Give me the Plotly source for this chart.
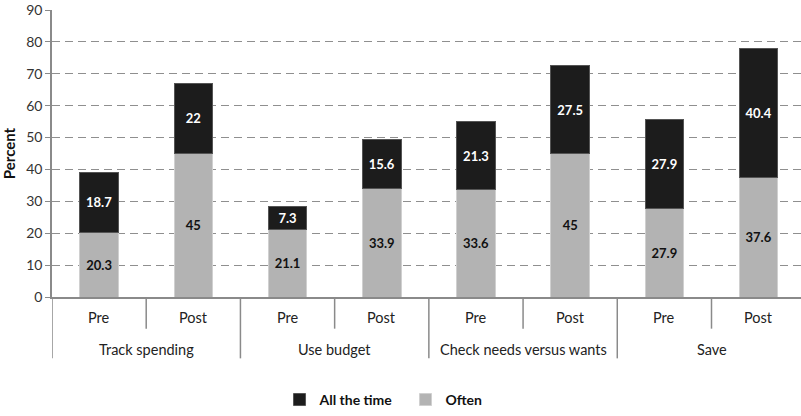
import plotly.graph_objects as go

groups = ["Track spending", "Use budget", "Check needs versus wants", "Save"]
phases = ["Pre", "Post"]
often = [20.3, 45, 21.1, 33.9, 33.6, 45, 27.9, 37.6]
all_time = [18.7, 22, 7.3, 15.6, 21.3, 27.5, 27.9, 40.4]
y_ticks = [0, 10, 20, 30, 40, 50, 60, 70, 80, 90]

FONT = "Lato, 'Open Sans', sans-serif"
x = list(range(len(often)))
phase_labels = [phases[i % 2] for i in x]

fig = go.Figure()
fig.add_trace(go.Bar(
    x=x, y=often, name="Often",
    marker=dict(color="#b3b3b3", line=dict(color="#d0d0d0", width=1)),
    width=0.41,
    text=[f"{v:g}" for v in often], textposition="inside", insidetextanchor="middle",
    textfont=dict(family=FONT, size=13, color="#111111", weight="bold"),
))
fig.add_trace(go.Bar(
    x=x, y=all_time, name="All the time",
    marker=dict(color="#1c1c1c", line=dict(color="#555555", width=1)),
    width=0.41,
    text=[f"{v:g}" for v in all_time], textposition="inside", insidetextanchor="middle",
    textfont=dict(family=FONT, size=13, color="#ffffff", weight="bold"),
))

axis_col = "#8a8a8a"
PH = 290.0  # plot height in px, for converting px offsets into paper units
shapes = []
annotations = []
for i, lab in enumerate(phase_labels):
    annotations.append(dict(x=i, y=-21 / PH, xref="x", yref="paper", yanchor="middle",
                            text=lab, showarrow=False,
                            font=dict(family=FONT, size=14.5, color="#222222")))
for gi, g in enumerate(groups):
    annotations.append(dict(x=2 * gi + 0.5, y=-53 / PH, xref="x", yref="paper", yanchor="middle",
                            text=g, showarrow=False,
                            font=dict(family=FONT, size=14.5, color="#222222")))
    shapes.append(dict(type="line", xref="x", yref="paper", x0=2 * gi + 0.5, x1=2 * gi + 0.5,
                       y0=0, y1=-32 / PH, line=dict(color=axis_col, width=1.5), layer="above"))
    shapes.append(dict(type="line", xref="x", yref="paper", x0=2 * gi - 0.5, x1=2 * gi - 0.5,
                       y0=0, y1=-62 / PH, line=dict(color=axis_col, width=1.5), layer="above"))

fig.update_layout(
    width=801, height=416,
    margin=dict(l=52, r=0, t=10, b=116),
    paper_bgcolor="white", plot_bgcolor="white",
    barmode="stack",
    font=dict(family=FONT, size=13, color="#333333"),
    shapes=shapes,
    annotations=annotations,
    legend=dict(orientation="h", x=0.472, xanchor="center", y=-104 / PH, yanchor="middle",
                traceorder="reversed",
                font=dict(family=FONT, size=14, color="#111111", weight="bold"),
                itemwidth=30, entrywidthmode="pixels", entrywidth=81),
    xaxis=dict(range=[-0.5, 7.45], showticklabels=False, ticks="", showgrid=False,
               zeroline=False, showline=True, linecolor=axis_col, linewidth=1.5),
    yaxis=dict(range=[0, 90], tickvals=y_ticks, ticks="outside", ticklen=5,
               tickcolor=axis_col, showline=True, linecolor=axis_col, linewidth=1.5,
               showgrid=True, gridcolor="#8f8f8f", griddash="8px,5px", gridwidth=1.4,
               zeroline=False,
               tickfont=dict(family=FONT, size=14, color="#333333"),
               title=dict(text="Percent", standoff=14,
                          font=dict(family=FONT, size=15, color="#111111", weight="bold"))),
)

fig.write_html("out.html")
